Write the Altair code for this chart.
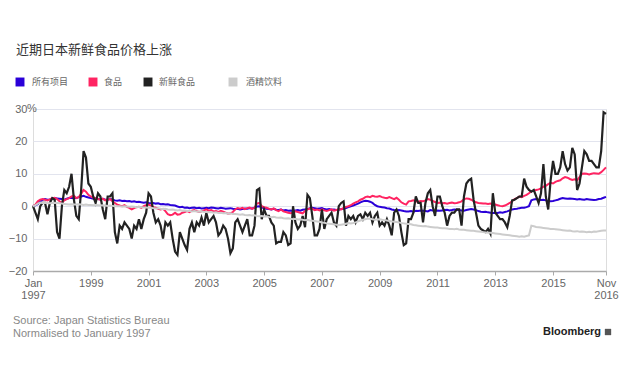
import altair as alt
import pandas as pd

# ---------------- data (monthly, Jan 1997 .. Nov 2016, index to Jan 1997 = 0) ----------------
series_names = ["所有项目", "食品", "新鲜食品", "酒精饮料"]
series_colors = ["#2a00d8", "#ff2462", "#222222", "#cccccc"]

all_items = [
    0, 0.3, 0.6, 1.5, 2.0, 2.2, 2.0, 2.1, 2.4, 2.5, 2.4, 2.3,          # 1997
    2.2, 2.0, 2.3, 2.5, 2.6, 2.4, 2.5, 2.8, 3.0, 3.2, 2.9, 2.7,        # 1998
    2.5, 2.3, 2.4, 2.2, 2.1, 2.3, 2.0, 2.0, 2.2, 2.1, 1.8, 1.7,        # 1999
    1.8, 1.6, 1.7, 1.5, 1.6, 1.4, 1.5, 1.3, 1.4, 1.2, 1.1, 1.2,        # 2000
    1.0, 0.9, 1.0, 0.8, 0.9, 0.6, 0.7, 0.5, 0.6, 0.4, 0.3, 0.2,        # 2001
    -0.1, -0.3, -0.2, -0.5, -0.4, -0.6, -0.5, -0.4, -0.6, -0.5, -0.7, -0.6,  # 2002
    -0.5, -0.6, -0.4, -0.5, -0.6, -0.7, -0.5, -0.6, -0.8, -0.7, -0.6, -0.8,  # 2003
    -0.9, -0.8, -1.0, -0.9, -0.7, -0.8, -0.6, -0.7, -0.5, -0.1, 0.0, -0.4,   # 2004
    -0.6, -0.8, -0.9, -1.0, -0.8, -1.1, -1.2, -1.0, -1.3, -1.2, -1.4, -1.3,  # 2005
    -1.5, -1.3, -1.2, -1.4, -1.1, -1.0, -0.9, -0.6, -0.5, -0.6, -0.8, -0.7,  # 2006
    -0.6, -0.9, -1.0, -0.9, -1.1, -1.0, -1.2, -1.1, -0.9, -0.8, -0.6, -0.3,  # 2007
    0.0, 0.2, 0.5, 0.8, 1.2, 1.5, 1.7, 1.6, 1.4, 1.0, 0.4, 0.0,        # 2008
    -0.2, -0.3, -0.4, -0.6, -0.7, -1.0, -1.2, -1.3, -1.2, -1.3, -1.5, -1.6,  # 2009
    -1.6, -1.5, -1.7, -1.4, -1.5, -1.3, -1.4, -1.5, -1.6, -1.2, -1.3, -1.4,  # 2010
    -1.3, -1.4, -1.3, -1.2, -1.1, -1.3, -1.2, -1.0, -1.1, -1.2, -1.3, -1.4,  # 2011
    -1.2, -1.0, -0.9, -1.0, -1.2, -1.5, -1.7, -1.8, -1.7, -1.9, -2.0, -2.1,  # 2012
    -2.0, -2.1, -1.9, -2.0, -1.8, -1.6, -1.3, -1.0, -0.9, -0.8, -0.6, -0.5,  # 2013
    -0.5, -0.3, 0.0, 1.8, 2.1, 2.2, 2.0, 1.9, 2.0, 1.8, 1.6, 1.5,      # 2014
    1.6, 1.8, 2.0, 2.3, 2.5, 2.4, 2.3, 2.4, 2.3, 2.2, 2.1, 2.2,        # 2015
    2.1, 2.0, 2.2, 2.1, 2.0, 1.9, 2.0, 2.2, 2.3, 2.6, 2.9,             # 2016
]

food = [
    0, 0.5, 1.5, 2.0, 2.2, 2.0, 1.8, 2.1, 2.5, 2.6, 2.2, 1.5,          # 1997
    1.0, 1.8, 2.2, 2.5, 3.0, 3.2, 2.5, 2.8, 3.8, 5.0, 4.5, 3.5,        # 1998
    3.0, 2.7, 2.5, 2.2, 2.0, 2.3, 1.8, 2.0, 2.2, 1.5, 1.0, 0.5,        # 1999
    0.2, 0.0, 0.3, -0.2, -0.5, -1.0, -0.6, -0.3, -0.2, -0.5, 0.0, 0.3, # 2000
    0.5, 0.2, -0.3, -0.5, -0.8, -1.0, -0.8, -1.5, -2.5, -2.8, -2.6, -2.0,    # 2001
    -2.6, -2.5, -2.0, -1.8, -1.5, -1.8, -1.4, -1.2, -1.5, -1.8, -1.6, -1.3,  # 2002
    -1.0, -1.4, -1.2, -1.6, -1.5, -1.8, -1.4, -1.7, -2.0, -2.3, -2.2, -1.8,  # 2003
    -1.0, -0.6, -0.8, -0.5, -0.9, -0.6, -0.4, -0.8, -0.5, 0.8, 1.0, 0.0,     # 2004
    -0.3, -0.5, -0.8, -1.0, -0.7, -1.2, -1.5, -1.0, -1.6, -1.8, -2.0, -2.2,  # 2005
    -2.0, -1.6, -1.8, -2.0, -2.2, -1.5, -1.0, -0.7, -0.8, -1.2, -1.0, -1.3,  # 2006
    -1.0, -1.3, -1.5, -1.2, -1.0, -1.4, -1.2, -0.9, -1.0, -0.5, -0.2, 0.0,   # 2007
    0.3, 0.8, 1.2, 1.5, 2.0, 2.3, 2.8, 3.0, 2.8, 3.2, 3.0, 2.9,        # 2008
    3.1, 2.8, 2.6, 2.5, 2.8, 2.5, 2.2, 2.6, 2.0, 1.2, 0.8, 0.5,        # 2009
    1.5, 1.6, 1.8, 1.5, 1.4, 1.6, 1.5, 1.8, 2.2, 2.0, 1.6, 1.3,        # 2010
    1.0, 1.1, 0.9, 1.0, 0.8, 1.0, 1.1, 0.9, 1.0, 1.2, 1.5, 2.1,        # 2011
    2.4, 2.3, 2.0, 1.6, 1.2, 1.0, 0.9, 0.8, 0.8, 0.7, 0.8, 0.6,        # 2012
    0.5, 0.3, 0.1, 0.0, 0.2, 0.6, 1.0, 1.5, 2.2, 2.5, 3.0, 2.8,        # 2013
    3.2, 3.5, 4.0, 4.6, 4.8, 5.0, 5.2, 5.5, 6.0, 6.3, 6.8, 7.2,        # 2014
    7.0, 7.5, 7.8, 8.0, 8.6, 9.0, 8.8, 8.4, 8.1, 8.3, 8.0, 9.0,        # 2015
    10.0, 10.1, 10.0, 9.8, 10.0, 10.2, 10.1, 10.0, 10.5, 11.2, 12.0,   # 2016
]

fresh_food = [
    0, -2, -4, 0, 1, 1, -2.5, 1, 2.5, 2, -8, -10,                      # 1997
    0, 5, 4, 6, 10, 2, -3, -4, 5, 17, 15, 7,                           # 1998
    6, 3, 1, 4, 3, -1, -4, 3, 3, 4, -8, -11.5,                         # 1999
    -6, -7, -5, -6, -7, -10, -6, -7, -4, -7, -4, -2,                   # 2000
    4, 3, -2, -5, -4, -6, -10, -5, -6, -5, -10, -14,                   # 2001
    -15, -8, -10, -12, -13.5, -7, -5, -8, -5, -6, -3.5, -6,            # 2002
    -2, -5, -4, -3, -5, -9, -8, -6, -7, -10, -14.5, -13,               # 2003
    -5, -4, -6, -8, -6, -4, -9, -9, -6, 5, 5.5, -4,                    # 2004
    -1, -3, -3, -5, -6, -11.5, -11, -11, -8, -9, -12, -11.5,           # 2005
    0, -5, -7, -6, -3, -6.5, 3.5, 2.5, -3, -9, -9, -7,                 # 2006
    -1, -7, -4, -3, -2, -5, -6, 0, 1, 1.5, -6, -3,                     # 2007
    -4, -3, -5, -3, -2.5, -4, -2, -3, -2, -5, -3, -2,                  # 2008
    -6, -5, -6, -4, -6, -9, -2, -1, -3, -8, -12, -11.5,                # 2009
    -4, -4, -2, 3, 1, 1, -5, 1, 4, 5, 0, -3,                           # 2010
    3, 3, 0, -2, -6, -3, -2, -2, -1, -1, -6, 3,                        # 2011
    7, 8, 8.5, 2, -2, -6, -7, -7.5, -8, -7, -8.5, 4,                   # 2012
    -2, -3, -4, -4, -5, -6.5, -3, 1.8, 2, 2.5, 3, 3,                   # 2013
    8.5, 6, 5, 4.5, 5, 3, 1, 4, 13, 3, -1, 8,                          # 2014
    14, 10, 10, 12, 17, 13, 11, 12, 18, 16, 5, 7,                      # 2015
    12, 17, 16, 14, 14, 13, 12, 12, 17, 29, 28.5,                      # 2016
]

alcohol = [
    0, 0.3, 0.8, 1.1, 1.0, 1.1, 1.0, 0.9, 1.0, 1.1, 1.0, 0.9,          # 1997
    0.8, 0.7, 0.6, 0.5, 0.6, 0.5, 0.5, 0.6, 0.5, 0.4, 0.5, 0.4,        # 1998
    0.4, 0.3, 0.4, 0.3, 0.2, 0.3, 0.2, 0.1, 0.2, 0.1, 0.0, 0.0,        # 1999
    0.0, -0.1, 0.0, -0.1, -0.2, -0.1, -0.2, -0.3, -0.2, -0.3, -0.4, -0.4,    # 2000
    -0.5, -0.5, -0.6, -0.7, -0.6, -0.8, -0.9, -0.8, -1.0, -1.1, -1.0, -1.2,  # 2001
    -1.3, -1.2, -1.4, -1.3, -1.5, -1.4, -1.6, -1.5, -1.6, -1.7, -1.6, -1.8,  # 2002
    -1.8, -1.9, -1.8, -2.0, -1.9, -2.1, -2.0, -2.2, -2.1, -2.3, -2.2, -2.4,  # 2003
    -2.4, -2.5, -2.6, -2.5, -2.7, -2.8, -2.7, -2.9, -2.8, -3.0, -3.1, -3.0,  # 2004
    -3.2, -3.1, -3.3, -3.4, -3.3, -3.5, -3.6, -3.5, -3.7, -3.8, -3.7, -3.9,  # 2005
    -4.0, -3.9, -4.1, -4.0, -4.2, -4.3, -4.2, -4.4, -4.5, -4.6, -4.7, -4.8,  # 2006
    -5.0, -5.1, -5.3, -5.4, -5.5, -5.6, -5.7, -5.8, -5.7, -5.6, -5.4, -5.2,  # 2007
    -5.3, -5.2, -5.0, -4.7, -4.4, -4.2, -4.0, -3.8, -3.9, -4.0, -4.2, -4.1,  # 2008
    -4.0, -4.2, -4.3, -4.4, -4.6, -4.7, -4.8, -4.9, -5.0, -5.2, -5.3, -5.4,  # 2009
    -5.5, -5.6, -5.8, -5.9, -6.0, -6.1, -6.2, -6.1, -6.3, -6.4, -6.5, -6.6,  # 2010
    -6.6, -6.7, -6.8, -6.8, -6.9, -7.0, -7.0, -7.1, -7.0, -7.2, -7.3, -7.3,  # 2011
    -7.4, -7.5, -7.6, -7.6, -7.7, -7.8, -7.9, -8.0, -8.1, -8.2, -8.2, -8.3,  # 2012
    -8.4, -8.5, -8.6, -8.7, -8.8, -8.9, -9.0, -9.1, -9.2, -9.3, -9.4, -9.3,  # 2013
    -9.4, -9.2, -9.0, -6.0, -6.2, -6.4, -6.5, -6.6, -6.7, -6.8, -6.9, -7.0,  # 2014
    -7.0, -7.1, -7.2, -7.3, -7.4, -7.5, -7.6, -7.5, -7.7, -7.8, -7.7, -7.9,  # 2015
    -7.8, -7.9, -8.0, -7.9, -8.0, -7.8, -7.9, -7.7, -7.6, -7.5, -7.5,        # 2016
]

y_ticks = [-20, -10, 0, 10, 20, 30]
x_ticks = [1997, 1999, 2001, 2003, 2005, 2007, 2009, 2011, 2013, 2015, 1997 + 238 / 12]

title_text = "近期日本新鲜食品价格上涨"
source_lines = ["Source: Japan Statistics Bureau", "Normalised to January 1997"]
brand = "Bloomberg"

# ---------------- build table ----------------
rows = []
for name, vals in zip(series_names, [all_items, food, fresh_food, alcohol]):
    for m, v in enumerate(vals):
        rows.append({"series": name, "t": 1997 + m / 12, "value": v})
df = pd.DataFrame(rows)

FONT = "Liberation Sans"
color_scale = alt.Scale(domain=series_names, range=series_colors)

x_enc = alt.X(
    "t:Q",
    scale=alt.Scale(domain=[1997, 1997 + 238 / 12], nice=False, zero=False),
    axis=alt.Axis(
        values=x_ticks,
        title=None,
        grid=False,
        labelExpr="datum.value < 1998 ? ['Jan', '1997'] : (datum.value > 2016 ? ['Nov', '2016'] : format(datum.value, 'd'))",
        labelFont=FONT,
        labelFontSize=11,
        labelColor="#666666",
        labelLineHeight=12,
        labelPadding=2,
        tickSize=4,
        tickColor="#aaaaaa",
        domainColor="#aaaaaa",
        domainWidth=1.5,
        labelFlush=False,
        labelOverlap=False,
    ),
)
y_scale = alt.Scale(domain=[-20, 30], nice=False, zero=False)
y_axis = alt.Axis(
    values=y_ticks,
    title=None,
    domain=False,
    ticks=False,
    labelPadding=6,
    labelFont=FONT,
    labelFontSize=11,
    labelColor="#666666",
    labelOverlap=False,
    labelFlush=False,
    gridColor="#e2e4ee",
    gridWidth=1,
)
y_enc = alt.Y("value:Q", scale=y_scale, axis=y_axis)

base = alt.Chart(df)
draw_order = ["所有项目", "食品", "新鲜食品", "酒精饮料"]
line_layers = []
for name in draw_order:
    line_layers.append(
        base.transform_filter(alt.datum.series == name)
        .mark_line(strokeWidth=2.2 if name == "新鲜食品" else 2)
        .encode(
            x=x_enc,
            y=y_enc,
            color=alt.Color("series:N", scale=color_scale, legend=None),
        )
    )

# "%" after the top y label
pct = alt.Chart(pd.DataFrame({"s": ["%"]})).mark_text(
    align="left", baseline="middle", font=FONT, fontSize=11, color="#666666"
).encode(x=alt.value(-6), y=alt.Y(datum=30, scale=y_scale, axis=y_axis), text="s:N")

# legend row (manual, above the plot)
sq_x = [-13, 60, 115, 200]
tx_x = [-1, 71, 126, 213]
legend_layers = []
for i, name in enumerate(series_names):
    ldf = pd.DataFrame({"series": [name]})
    legend_layers.append(
        alt.Chart(ldf).mark_square(size=80, opacity=1).encode(
            x=alt.value(sq_x[i]), y=alt.value(-27),
            color=alt.Color("series:N", scale=color_scale, legend=None),
        )
    )
    legend_layers.append(
        alt.Chart(ldf).mark_text(
            align="left", baseline="middle", font="Noto Sans CJK SC", fontSize=9, color="#666666"
        ).encode(x=alt.value(tx_x[i]), y=alt.value(-27), text="series:N")
    )

# footnotes
notes = []
for i, line in enumerate(source_lines):
    notes.append(
        alt.Chart(pd.DataFrame({"s": [line]})).mark_text(
            align="left", baseline="middle", font=FONT, fontSize=11, color="#888888"
        ).encode(x=alt.value(-20), y=alt.value(212 + i * 13), text="s:N")
    )
notes.append(
    alt.Chart(pd.DataFrame({"s": [brand]})).mark_text(
        align="right", baseline="middle", font=FONT, fontSize=11, fontWeight="bold", color="#222222"
    ).encode(x=alt.value(568), y=alt.value(223), text="s:N")
)
notes.append(
    alt.Chart(pd.DataFrame({"s": [brand]})).mark_square(size=40, color="#555555", opacity=1).encode(
        x=alt.value(575), y=alt.value(223)
    )
)

chart = (
    alt.layer(*line_layers, pct, *legend_layers, *notes)
    .properties(
        width=573,
        height=162,
        padding={"left": 25, "top": 101, "right": 16, "bottom": 107},
        autosize=alt.AutoSizeParams(type="none"),
        title=alt.TitleParams(
            text=title_text,
            anchor="start",
            frame="group",
            dx=-17,
            offset=21,
            font="Noto Sans CJK SC",
            fontSize=13,
            fontWeight="normal",
            color="#333333",
        ),
    )
    .configure_view(strokeWidth=0)
    .configure(background="white")
)

chart.save("out.html", embed_options={"renderer": "svg", "actions": False})
